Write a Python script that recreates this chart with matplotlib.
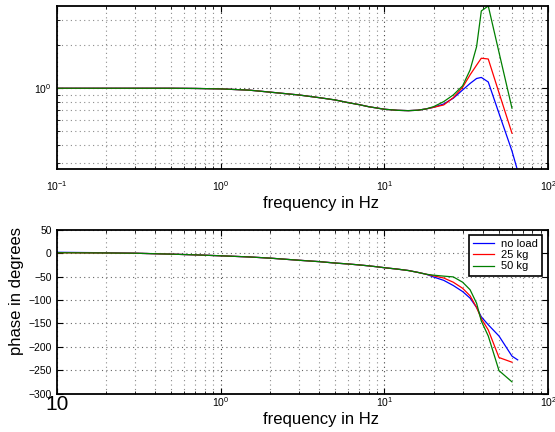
import matplotlib
matplotlib.use('Agg')
import matplotlib.pyplot as plt
from matplotlib.ticker import NullFormatter, FixedLocator

plt.rcParams['font.family']=['Liberation Sans','DejaVu Sans']

# measured frequencies (Hz)
freq=[0.1,0.2,0.3,0.5,0.7,1,1.5,2,3,4,5,6,7,8,9,10,12,14,16,18,20,23,26.3,30,33.3,36.5,39,43,50,60]
freq_noload=freq+[65]

# magnitude (gain)
mag_common=[1.0,1.0,1.0,1.0,0.997,0.99,0.97,0.94,0.898,0.86,0.829,0.794,0.769,0.744,0.728,0.714,0.702,0.698,0.703,0.718]
mag_noload=mag_common+[0.737,0.777,0.852,0.973,1.08,1.17,1.19,1.106,0.668,0.365,0.265]
mag_25=mag_common+[0.737,0.765,0.86,1.016,1.24,1.45,1.62,1.60,0.93,0.486]
mag_50=mag_common+[0.745,0.807,0.898,1.04,1.34,1.95,3.46,3.75,1.78,0.726]

# phase (degrees)
ph_common=[1,0.5,0,-2,-3.5,-5.5,-8,-10.5,-15,-18,-21,-23,-25,-27,-29,-31,-34,-37,-41,-45]
ph_noload=[2,1]+ph_common[2:]+[-51,-58,-69,-82,-96,-116,-136,-153,-177,-220,-228]
ph_25=ph_common+[-48.5,-53,-62,-75,-91,-116,-140,-164,-223,-233]
ph_50=ph_common+[-47,-49,-50.6,-62,-78,-107,-145,-177,-251,-275]

labels=['no load','25 kg','50 kg']
colors=['#0000ff','#ff0000','#007f00']

fig=plt.figure(figsize=(5.55,4.32),dpi=100)
ax1=fig.add_axes([0.102,0.608,0.886,0.379])
ax2=fig.add_axes([0.102,0.089,0.886,0.379])

dots=(0,(1,3))

def style(ax):
    ax.set_xscale('log')
    ax.set_xlim(0.1,100)
    ax.tick_params(which='both',direction='in',top=True,right=True,labelsize=7.5)
    ax.tick_params(which='major',length=4)
    ax.tick_params(which='minor',length=2)
    for s in ax.spines.values():
        s.set_linewidth(1.3)
    ax.xaxis.set_minor_formatter(NullFormatter())
    ax.grid(True,which='major',axis='x',linestyle=dots,color='0.25',linewidth=0.8)
    ax.grid(True,which='minor',axis='x',linestyle=dots,color='0.55',linewidth=0.8)

ax1.plot(freq_noload,mag_noload,color=colors[0],lw=0.9)
ax1.plot(freq,mag_25,color=colors[1],lw=0.9)
ax1.plot(freq,mag_50,color=colors[2],lw=0.9)
style(ax1)
ax1.set_yscale('log')
ax1.set_ylim(0.272,3.77)
ax1.yaxis.set_minor_formatter(NullFormatter())
ax1.grid(True,which='major',axis='y',linestyle=dots,color='0.25',linewidth=0.8)
ax1.grid(True,which='minor',axis='y',linestyle=dots,color='0.55',linewidth=0.8)
ax1.tick_params(axis='x',pad=7)
ax1.set_xlabel('frequency in Hz',fontsize=12)
ax1.xaxis.set_label_coords(0.538,-0.16)

ax2.plot(freq_noload,ph_noload,color=colors[0],lw=0.9,label=labels[0])
ax2.plot(freq,ph_25,color=colors[1],lw=0.9,label=labels[1])
ax2.plot(freq,ph_50,color=colors[2],lw=0.9,label=labels[2])
style(ax2)
ax2.set_ylim(-300,50)
ax2.yaxis.set_major_locator(FixedLocator(range(-300,51,50)))
ax2.grid(True,which='major',axis='y',linestyle=dots,color='0.4',linewidth=0.8)
ax2.tick_params(axis='x',pad=1)
ax2.set_xlabel('frequency in Hz',fontsize=12)
ax2.xaxis.set_label_coords(0.538,-0.115)
ax2.set_ylabel('phase in degrees',fontsize=12)
ax2.yaxis.set_label_coords(-0.066,0.627)
leg=ax2.legend(loc='upper right',bbox_to_anchor=(0.988,0.97),fontsize=8,fancybox=False,
               edgecolor='black',framealpha=1,handlelength=1.9,handletextpad=0.6,
               labelspacing=0.1,borderpad=0.4,borderaxespad=0)
leg.get_frame().set_linewidth(1.2)

fig.canvas.draw()
tl=ax2.get_xticklabels()
for t in tl:
    if abs(t.get_position()[0]-0.1)<1e-9:
        t.set_text('10')
        t.set_fontsize(15)
ax2.set_xticklabels(tl)

fig.savefig('out.png',dpi=100)
